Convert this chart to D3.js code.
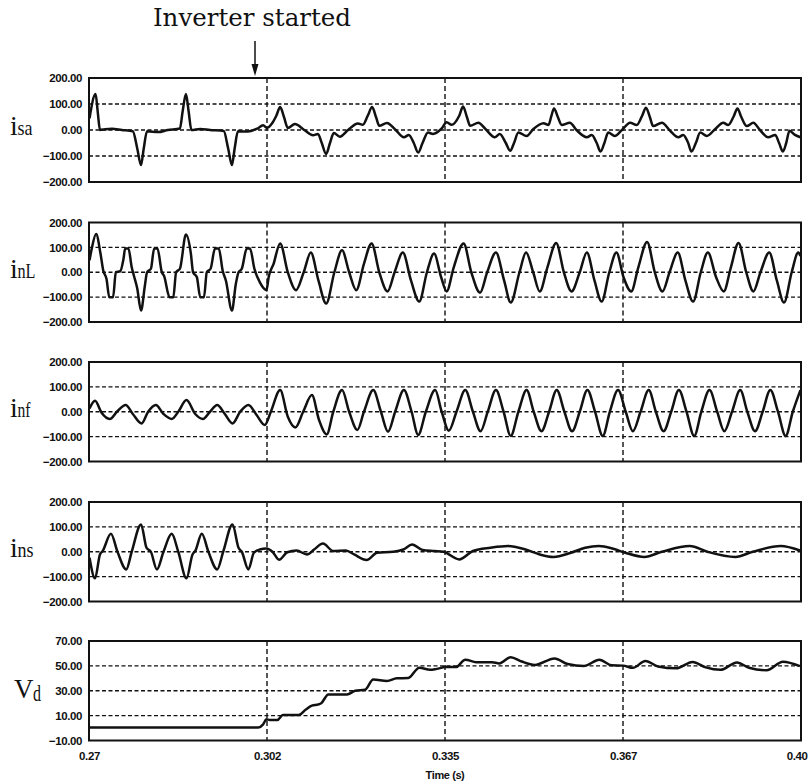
<!DOCTYPE html>
<html lang="en">
<head>
<meta charset="UTF-8">
<title>Inverter started - waveforms</title>
<style>
  body { margin: 0; background: #fff; }
  svg { display: block; }
  .tick text { font-family: "Liberation Sans Narrow", "Arial Narrow", "Liberation Sans", sans-serif; font-weight: bold; font-size: 11.5px; letter-spacing: -0.4px; fill: #111; }
  .grid line { stroke: #111; stroke-width: 1.4; stroke-dasharray: 4,2.5; }
  .grid line.v { stroke-dasharray: 5,3; }
  .frame { fill: none; stroke: #111; stroke-width: 2; }
  .trace { fill: none; stroke: #111; stroke-width: 2.5; stroke-linejoin: round; }
  .sig { font-family: "Liberation Serif", "DejaVu Serif", serif; fill: #111; }
</style>
</head>
<body>
<script src="https://cdn.jsdelivr.net/npm/d3@7"></script>
<script>
// time in ms
const xTickValues = [270, 302.5, 335, 367.5, 400];
const xTickLabels = ["0.27", "0.302", "0.335", "0.367", "0.40"];
const currentTicks = [-200, -100, 0, 100, 200];
const vdTicks = [-10, 10, 30, 50, 70];
const signalLabels = [["i", "sa"], ["i", "nL"], ["i", "nf"], ["i", "ns"], ["V", "d"]];

const isaData = [
  [270.1,45],[271.2,138],[271.6,69],[272.0,0],[272.9,3],[274.2,5],[276.0,0],[278.0,-5],[278.8,-70],[279.5,-135],
  [280.0,-70],[280.6,-5],[282.6,-8],[284.4,0],[286.6,6],[287.1,72],[287.7,138],[288.2,70],[288.7,0],[290.3,4],
  [292.1,0],[294.6,-4],[295.4,-70],[296.1,-135],[296.6,-70],[297.2,-5],[299.0,-6],[300.7,5],[301.8,18],[302.5,8],
  [303.4,25],[304.2,55],[304.9,88],[305.6,50],[306.3,8],[307.6,23],[309.3,0],[310.9,-20],[311.8,-15],[312.5,-50],
  [313.3,-92],[314.0,-50],[314.7,-12],[315.8,-26],[317.3,0],[319.1,25],[320.0,20],[320.9,55],[321.7,88],[322.4,50],
  [323.0,16],[324.4,27],[325.9,2],[327.5,-28],[328.4,-19],[329.3,-50],[330.1,-87],[330.9,-50],[331.9,-10],[332.8,-15],
  [334.4,6],[335.3,30],[336.2,20],[337.6,55],[338.3,90],[339.0,50],[339.6,16],[341.1,28],[342.3,6],[344.1,-28],
  [345.0,-15],[346.1,-50],[346.9,-80],[347.6,-50],[348.4,-10],[349.9,-23],[351.1,3],[353.0,26],[353.9,19],[354.4,52],
  [354.9,83],[355.6,50],[356.3,19],[357.8,28],[359.0,0],[360.9,-28],[361.8,-19],[362.7,-50],[363.4,-83],[364.1,-50],
  [364.8,-10],[366.0,-23],[367.3,0],[368.8,28],[370.0,19],[371.0,55],[371.7,86],[372.4,50],[373.0,15],[374.6,28],
  [376.1,-3],[377.6,-28],[378.5,-19],[379.4,-50],[380.0,-83],[380.8,-50],[381.6,-10],[382.8,-23],[384.3,3],[385.8,28],
  [386.7,19],[387.7,52],[388.4,83],[389.1,50],[390.1,15],[391.3,28],[392.5,0],[394.0,-28],[395.3,-19],[396.0,-50],
  [396.7,-83],[397.3,-50],[397.9,-3],[398.9,-19],[399.9,-28]
];

const inlData = [
  [270.1,48],[270.5,95],[271.3,154],[272.1,75],[272.6,7],[273.2,-27],[273.7,-100],[274.4,-100],[274.9,0],[275.7,4],
  [276.3,54],[276.6,95],[277.2,95],[277.8,20],[278.2,-14],[278.8,-64],[279.5,-154],[280.2,-54],[280.6,0],[281.3,14],
  [281.9,95],[282.5,95],[283.3,0],[283.7,-14],[284.7,-100],[285.4,-100],[285.9,0],[286.6,14],[287.7,152],[288.6,75],
  [289.0,0],[289.7,-20],[290.3,-100],[291.0,-100],[291.5,0],[292.2,14],[293.0,95],[293.7,95],[294.4,7],[295.0,-34],
  [296.1,-154],[296.8,-48],[297.3,0],[297.9,14],[298.8,95],[299.4,95],[300.2,14],[301.2,-41],[302.4,-72],[302.8,-20],
  [303.7,34],[304.9,116],[306.3,0],[307.8,-72],[309.2,0],[310.5,79],[311.9,-34],[313.3,-126],[314.8,0],[316.2,88],
  [317.5,0],[318.8,-72],[320.2,34],[321.6,116],[323.0,0],[324.5,-77],[325.8,0],[327.3,79],[328.8,-34],[330.3,-118],
  [331.7,0],[333.0,75],[334.3,-20],[335.3,-77],[336.6,20],[338.4,116],[339.8,0],[341.4,-82],[342.7,0],[344.3,79],
  [345.8,-34],[347.0,-122],[348.6,0],[349.8,79],[351.1,0],[352.3,-77],[353.7,20],[355.3,118],[356.7,0],[358.1,-77],
  [359.6,0],[360.9,79],[362.3,-34],[363.6,-118],[365.0,0],[366.3,79],[367.6,-20],[369.0,-77],[370.3,20],[371.9,122],
  [373.3,0],[374.7,-77],[376.0,0],[377.5,79],[378.9,-34],[380.3,-118],[381.7,0],[383.0,79],[384.5,-20],[385.9,-77],
  [387.2,20],[388.6,118],[390.0,0],[391.3,-77],[392.6,0],[394.2,79],[395.6,-34],[396.9,-122],[398.3,0],[399.5,79],
  [399.9,65]
];

const infData = [
  [270.1,13],[271.1,44],[272.3,-4],[273.8,-29],[275.1,0],[276.7,27],[278.0,-9],[279.6,-47],[280.8,0],[282.2,27],
  [283.6,-9],[285.1,-29],[286.3,0],[287.8,47],[289.4,-9],[290.8,-29],[292.1,0],[293.4,27],[294.8,-9],[296.2,-47],
  [297.6,0],[299.1,27],[300.6,-13],[302.1,-53],[303.2,0],[304.9,87],[306.3,-20],[307.7,-63],[309.1,0],[310.7,67],
  [312.0,-33],[313.4,-91],[314.6,0],[316.2,87],[317.5,0],[319.0,-73],[320.2,0],[321.9,87],[323.3,0],[324.6,-80],
  [325.9,0],[327.5,87],[328.9,0],[330.1,-93],[331.5,0],[333.2,87],[334.4,0],[335.7,-76],[337.1,0],[338.7,87],
  [340.1,0],[341.5,-78],[342.8,0],[344.3,87],[345.7,0],[347.0,-97],[348.4,0],[349.9,87],[351.2,0],[352.6,-78],
  [354.0,0],[355.4,87],[356.8,0],[358.2,-78],[359.6,0],[361.0,87],[362.4,0],[363.8,-97],[365.1,0],[366.6,87],
  [368.0,0],[369.3,-78],[370.7,0],[372.2,87],[373.5,0],[374.9,-78],[376.3,0],[377.7,87],[379.1,0],[380.5,-97],
  [381.8,0],[383.3,87],[384.7,0],[386.0,-78],[387.4,0],[388.9,87],[390.2,0],[391.6,-78],[393.0,0],[394.4,87],
  [395.8,0],[397.2,-97],[398.5,0],[399.9,87]
];

const insData = [
  [270.1,-24],[271.1,-107],[272.0,-11],[272.5,3],[274.0,72],[275.2,0],[276.8,-71],[277.8,0],[279.5,110],[280.5,16],
  [281.3,0],[282.4,-71],[283.6,0],[285.1,72],[286.3,0],[287.8,-107],[288.9,-11],[289.4,3],[290.6,72],[291.8,0],
  [293.4,-71],[294.5,0],[296.2,110],[297.3,16],[297.9,0],[299.1,-71],[300.1,-4],[301.2,9],[302.4,13],[303.5,0],
  [304.7,-32],[306.2,-2],[307.9,5],[309.8,-11],[311.1,9],[312.7,33],[314.6,3],[316.9,5],[318.4,-11],[320.7,-33],
  [322.6,-4],[325.5,0],[327.4,9],[329.0,29],[330.9,7],[333.1,3],[334.7,0],[337.6,-31],[340.1,3],[343.3,16],
  [346.5,23],[349.7,9],[352.3,-11],[354.8,-21],[358.0,-4],[360.6,16],[363.1,23],[365.7,12],[367.9,-4],[371.4,-21],
  [374.6,0],[379.7,23],[382.9,0],[388.0,-21],[391.2,0],[396.3,23],[399.8,5]
];

const vdData = [
  [270.0,0.5],[300.9,0.5],[301.8,3],[302.4,7],[303.0,6.5],[304.4,6.5],[305.4,10.5],[308.3,10.5],[309.6,15],[310.7,18],
  [311.9,19],[312.4,20],[313.7,27],[317.1,27],[318.6,30],[320.4,30.8],[321.9,39],[324.4,37.8],[326.2,40],[328.3,40.3],
  [330.3,48.5],[332.3,46.8],[333.5,47.6],[335.1,49],[337.0,49],[338.7,55],[340.7,53],[343.6,53],[344.9,52],[347.0,57],
  [349.0,53.5],[351.4,50.8],[355.0,56],[357.4,51.5],[360.4,50],[363.2,55],[365.4,50.5],[367.5,50.2],[369.3,48.4],[371.6,54],
  [373.9,49.5],[377.2,48],[380.2,53.1],[382.6,48.8],[385.3,46.8],[388.3,52.8],[390.5,48.5],[393.7,46.5],[396.7,53.4],[399.8,49.8]
];

const width = 808, height = 782;
const left = 89, right = 801;

const panels = [
  { data: isaData, ticks: currentTicks, top: 78, h: 104, labelAt: 0, labelDy: 5, subW: 15 },
  { data: inlData, ticks: currentTicks, top: 222.5, h: 99.5, labelAt: 0, labelDy: 6, subW: 18 },
  { data: infData, ticks: currentTicks, top: 362, h: 99.5, labelAt: 0, labelDy: 5, subW: 13 },
  { data: insData, ticks: currentTicks, top: 502, h: 99.5, labelAt: 0, labelDy: 5, subW: 16 },
  { data: vdData, ticks: vdTicks, top: 641, h: 99.5, labelAt: 30, labelDy: 7, subW: 8 }
];

const svg = d3.select("body").append("svg").attr("width", width).attr("height", height);

const x = d3.scaleLinear().domain([270, 400]).range([left, right]);

// header annotation
svg.append("text")
  .attr("x", 252).attr("y", 26)
  .attr("text-anchor", "middle")
  .attr("font-family", "'DejaVu Serif', 'Liberation Serif', serif")
  .attr("font-size", 24.5)
  .attr("fill", "#111")
  .text("Inverter started");
svg.append("line").attr("x1", 255).attr("x2", 255).attr("y1", 41).attr("y2", 66)
  .attr("stroke", "#111").attr("stroke-width", 1.5);
svg.append("path").attr("d", "M251.5,64L258.5,64L255,76Z").attr("fill", "#111");

panels.forEach((p, i) => {
  const y = d3.scaleLinear().domain(d3.extent(p.ticks)).range([p.top + p.h, p.top]);
  const g = svg.append("g");

  const grid = g.append("g").attr("class", "grid");
  grid.selectAll("line.h").data(p.ticks.slice(1, -1)).enter().append("line")
    .attr("class", "h")
    .attr("x1", left).attr("x2", right)
    .attr("y1", d => y(d)).attr("y2", d => y(d));
  grid.selectAll("line.v").data(xTickValues.slice(1, -1)).enter().append("line")
    .attr("class", "v")
    .attr("x1", d => x(d)).attr("x2", d => x(d))
    .attr("y1", p.top).attr("y2", p.top + p.h);

  const line = d3.line().x(d => x(d[0])).y(d => y(d[1])).curve(d3.curveMonotoneX);
  g.append("path").datum(p.data).attr("class", "trace").attr("d", line);

  g.append("rect").attr("class", "frame")
    .attr("x", left).attr("y", p.top).attr("width", right - left).attr("height", p.h);

  const yAxis = g.append("g").attr("transform", `translate(${left},0)`)
    .call(d3.axisLeft(y).tickValues(p.ticks).tickFormat(d3.format(".2f")).tickSize(0).tickPadding(7));
  yAxis.select(".domain").remove();

  // signal name, e.g. i_sa
  const [main, sub] = signalLabels[i];
  const ly = y(p.labelAt) + p.labelDy;
  if (main === "V") {
    g.append("text").attr("class", "sig").attr("x", 14).attr("y", ly).attr("font-size", 27).text(main);
    g.append("text").attr("class", "sig").attr("x", 33).attr("y", ly + 3).attr("font-size", 23)
      .attr("textLength", p.subW).attr("lengthAdjust", "spacingAndGlyphs").text(sub);
  } else {
    g.append("text").attr("class", "sig").attr("x", 10).attr("y", ly).attr("font-size", 28).text(main);
    g.append("text").attr("class", "sig").attr("x", 17.5).attr("y", ly).attr("font-size", 22)
      .attr("textLength", p.subW).attr("lengthAdjust", "spacingAndGlyphs").text(sub);
  }

  if (i === panels.length - 1) {
    const xAxis = g.append("g").attr("transform", `translate(0,${p.top + p.h})`)
      .call(d3.axisBottom(x).tickValues(xTickValues).tickFormat((d, k) => xTickLabels[k]).tickSize(0).tickPadding(11));
    xAxis.select(".domain").remove();
    xAxis.selectAll(".tick").filter((d, k) => k === xTickValues.length - 1)
      .select("text").attr("text-anchor", "end").attr("dx", 6);
    g.append("text")
      .attr("x", 445).attr("y", 779)
      .attr("text-anchor", "middle")
      .attr("font-family", "'Liberation Sans Narrow', 'Arial Narrow', 'Liberation Sans', sans-serif")
      .attr("font-weight", "bold").attr("font-size", 11).attr("letter-spacing", -0.4)
      .attr("fill", "#111")
      .text("Time (s)");
  }
});
</script>
</body>
</html>
